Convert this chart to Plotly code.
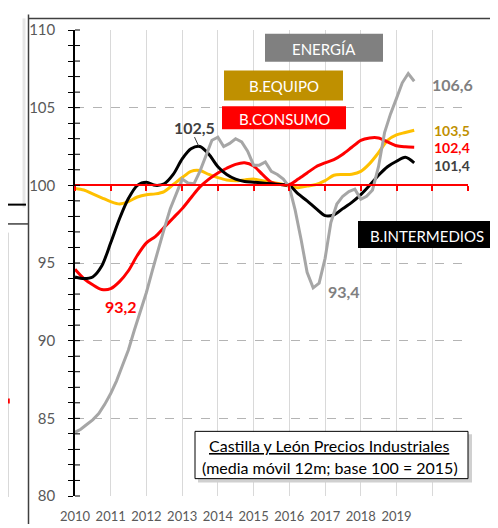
import plotly.graph_objects as go
import pandas as pd

# ---------------- data ----------------
quarters = pd.date_range("2010-01-01", "2019-07-01", freq="QS")
bimonthly = pd.date_range("2010-01-01", "2019-07-01", freq="2MS")

b_equipo = [99.8, 99.7, 99.45, 99.2, 98.95, 98.8, 98.95, 99.25, 99.4, 99.45,
            99.6, 100.05, 100.5, 100.9, 100.95, 100.7, 100.5, 100.35, 100.3, 100.35,
            100.4, 100.3, 100.2, 100.1, 99.95, 99.85, 99.95, 100.05, 100.3, 100.65,
            100.7, 100.72, 100.9, 101.4, 102.1, 102.9, 103.25, 103.4, 103.55]

b_consumo = [94.6, 94.0, 93.6, 93.3, 93.35, 93.8, 94.5, 95.5, 96.3, 96.7,
             97.3, 97.9, 98.5, 99.2, 99.9, 100.4, 100.8, 101.1, 101.35, 101.45,
             101.25, 100.7, 100.2, 100.05, 100.05, 100.4, 100.8, 101.2, 101.45, 101.65,
             102.0, 102.45, 102.9, 103.05, 103.05, 102.8, 102.55, 102.48, 102.45]

b_intermedios = [94.1, 94.0, 94.1, 94.8, 96.3, 97.85, 99.15, 100.0, 100.2, 100.0,
                 100.1, 100.7, 101.7, 102.35, 102.5, 102.0, 101.2, 100.7, 100.4, 100.25,
                 100.2, 100.15, 100.1, 100.05, 100.0, 99.45, 99.0, 98.5, 98.05, 98.1,
                 98.5, 98.9, 99.4, 100.0, 100.65, 101.2, 101.55, 101.8, 101.45]

energia = [84.1, 84.3, 84.6, 84.9, 85.3, 85.9, 86.6, 87.4, 88.4, 89.4,
           90.7, 91.9, 93.1, 94.5, 95.9, 97.2, 98.5, 99.5, 100.4, 100.15,
           100.1, 100.9, 101.9, 102.9, 103.1, 102.5, 102.7, 103.0, 102.8, 102.2,
           101.3, 101.3, 101.5, 100.9, 100.7, 100.4, 99.9, 98.4, 96.5, 94.4,
           93.4, 93.7, 95.3, 97.6, 98.8, 99.3, 99.6, 99.75, 99.1, 99.3,
           99.7, 101.2, 103.4, 104.6, 105.6, 106.6, 107.2, 106.7]

year_ticks = list(range(2010, 2022))
year_labels = [str(y) if y <= 2019 else "" for y in year_ticks]
year_dates = [f"{y}-01-01" for y in year_ticks]
y_ticks = [80, 85, 90, 95, 100, 105, 110]

end_labels = ["106,6", "103,5", "102,4", "101,4"]
title_line1 = "Castilla y León Precios Industriales"
title_line2 = "(media móvil 12m; base 100 = 2015)"

# ---------------- layout helpers ----------------
W_PAGE, H_PAGE = 498, 528
ML, MR, MT, MB = 67, 38, 16, 29
PW = W_PAGE - ML - MR
PH = H_PAGE - MT - MB
Y0, Y1 = 80, 110
X_RANGE = ["2010-01-01", "2021-01-01"]


def px(x):
    return (x - ML) / PW


def py(y):
    return 1 - (y - MT) / PH


def pv(v):
    return (v - Y0) / (Y1 - Y0)


FONT = "Lato, 'Open Sans', sans-serif"

fig = go.Figure()

fig.add_trace(go.Scatter(x=quarters, y=b_equipo, mode="lines", name="B.EQUIPO",
                         line=dict(color="#FFC000", width=3, shape="spline", smoothing=0.8)))
fig.add_trace(go.Scatter(x=quarters, y=b_consumo, mode="lines", name="B.CONSUMO",
                         line=dict(color="#FF0000", width=3, shape="spline", smoothing=0.8)))
fig.add_trace(go.Scatter(x=quarters, y=b_intermedios, mode="lines", name="B.INTERMEDIOS",
                         line=dict(color="#000000", width=3, shape="spline", smoothing=0.8)))
fig.add_trace(go.Scatter(x=bimonthly, y=energia, mode="lines", name="ENERGÍA",
                         line=dict(color="#A6A6A6", width=3)))
# empty trace so that the red crossing axis (x2) is drawn
fig.add_trace(go.Scatter(x=[], y=[], xaxis="x2", yaxis="y", showlegend=False, hoverinfo="skip"))

shapes = []
# inner half of the cross-style y ticks
for v in range(Y0, Y1 + 1):
    shapes.append(dict(type="line", xref="paper", yref="paper", x0=0, x1=px(72),
                       y0=pv(v), y1=pv(v), line=dict(color="black", width=1), layer="above"))

# label boxes
boxes = [
    ("ENERGÍA", 257, 375, 20, 49, "#808080"),
    ("B.EQUIPO", 216, 335, 58, 89, "#BF9000"),
    ("B.CONSUMO", 214, 338, 95, 119, "#FF0000"),
    ("B.INTERMEDIOS", 350, 487, 214, 242, "#000000"),
]
annotations = []
for text, x0, x1, y0, y1, col in boxes:
    shapes.append(dict(type="rect", xref="paper", yref="paper", x0=px(x0), x1=px(x1),
                       y0=py(y1), y1=py(y0), fillcolor=col, line=dict(width=0), layer="above"))
    annotations.append(dict(text=text, xref="paper", yref="paper", x=px((x0 + x1) / 2),
                            y=py((y0 + y1) / 2 + 1), showarrow=False, xanchor="center",
                            yanchor="middle", font=dict(family=FONT, size=15, color="white")))

# title box with shadow
shapes.append(dict(type="rect", xref="paper", yref="paper", x0=px(190), x1=px(464),
                   y0=py(485), y1=py(435), fillcolor="#D0D0D0", line=dict(width=0), layer="above"))
shapes.append(dict(type="rect", xref="paper", yref="paper", x0=px(187), x1=px(460),
                   y0=py(481), y1=py(432), fillcolor="white",
                   line=dict(color="black", width=1), layer="above"))
annotations.append(dict(text=f"<u>{title_line1}</u>", xref="paper", yref="paper",
                        x=px(321), y=py(447), showarrow=False, xanchor="center", yanchor="middle",
                        font=dict(family=FONT, size=16, color="black")))
annotations.append(dict(text=title_line2, xref="paper", yref="paper",
                        x=px(322), y=py(469), showarrow=False, xanchor="center", yanchor="middle",
                        font=dict(family=FONT, size=16, color="black")))

# value labels
vals = [
    ("102,5", 186, 117, "#404040", 16),
    (end_labels[0], 444, 72, "#808080", 16),
    (end_labels[1], 444, 120, "#BF9000", 14),
    (end_labels[2], 444, 138, "#FF0000", 14),
    (end_labels[3], 444, 156, "#404040", 14),
    ("93,2", 113, 303, "#FF0000", 16),
    ("93,4", 336, 287, "#808080", 16),
]
for text, cx, cy, col, fs in vals:
    annotations.append(dict(text=f"<b>{text}</b>", xref="paper", yref="paper", x=px(cx),
                            y=py(cy), showarrow=False, xanchor="center", yanchor="middle",
                            borderpad=0,
                            font=dict(family=FONT, size=fs, color=col)))
shapes.append(dict(type="line", xref="paper", yref="paper", x0=px(186.5), x1=px(190.5),
                   y0=py(127), y1=py(136), line=dict(color="#404040", width=1), layer="above"))

# frame / screenshot artefacts
frame = dict(color="#404040", width=1.5)
shapes += [
    dict(type="line", xref="paper", yref="paper", x0=px(20.5), x1=px(492), y0=py(4), y1=py(4), line=frame),
    dict(type="line", xref="paper", yref="paper", x0=px(20.5), x1=px(20.5), y0=py(0), y1=py(528), line=frame),
    dict(type="line", xref="paper", yref="paper", x0=px(492), x1=px(492), y0=py(4), y1=py(528), line=frame),
    dict(type="line", xref="paper", yref="paper", x0=px(16), x1=px(16), y0=py(4), y1=py(200),
         line=dict(color="#E6E6E6", width=3)),
    dict(type="line", xref="paper", yref="paper", x0=px(0), x1=px(18), y0=py(197), y1=py(197),
         line=dict(color="black", width=2)),
    dict(type="line", xref="paper", yref="paper", x0=px(0), x1=px(21), y0=py(217), y1=py(217), line=frame),
    dict(type="line", xref="paper", yref="paper", x0=px(0.5), x1=px(0.5), y0=py(226), y1=py(500),
         line=dict(color="#D9D9D9", width=1)),
    dict(type="line", xref="paper", yref="paper", x0=px(0.8), x1=px(0.8), y0=py(398), y1=py(403),
         line=dict(color="#FF0000", width=2)),
]

fig.update_layout(
    width=W_PAGE, height=H_PAGE,
    margin=dict(l=ML, r=MR, t=MT, b=MB),
    paper_bgcolor="white", plot_bgcolor="white",
    showlegend=False,
    shapes=shapes,
    annotations=annotations,
    font=dict(family=FONT),
    xaxis=dict(
        type="date", range=X_RANGE,
        tickmode="array", tickvals=year_dates, ticktext=year_labels,
        showgrid=True, gridcolor="#D9D9D9", gridwidth=1,
        showline=False, zeroline=False, ticks="",
        tickfont=dict(family=FONT, size=13, color="#595959"),
        ticklabelstandoff=11,
    ),
    xaxis2=dict(
        type="date", range=X_RANGE, overlaying="x", anchor="free", position=pv(100),
        side="bottom", tickmode="array", tickvals=year_dates, showticklabels=False,
        ticks="outside", ticklen=5, tickwidth=1.5, tickcolor="#FF0000",
        showline=True, linecolor="#FF0000", linewidth=2,
        showgrid=False, zeroline=False,
    ),
    yaxis=dict(
        range=[Y0, Y1], tickmode="array", tickvals=y_ticks,
        showgrid=True, gridcolor="#B4B4B4", griddash="dash", gridwidth=1,
        showline=True, linecolor="black", linewidth=1.5, zeroline=False,
        ticks="outside", ticklen=5, tickwidth=1, tickcolor="black",
        minor=dict(dtick=1, tick0=80, ticks="outside", ticklen=5, tickwidth=1,
                   tickcolor="black", showgrid=False),
        tickfont=dict(family=FONT, size=15, color="#595959"),
        ticklabelstandoff=10,
    ),
)

fig.write_html("out.html")
